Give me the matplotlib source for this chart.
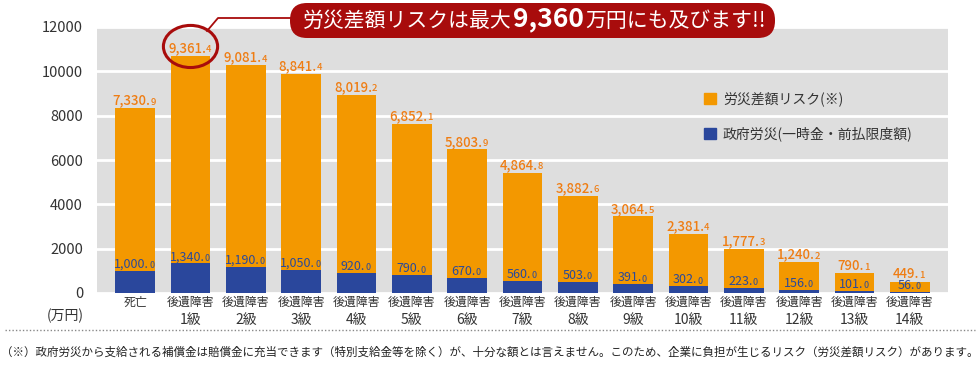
import matplotlib
matplotlib.use("Agg")
import matplotlib.pyplot as plt
from matplotlib.patches import Patch, Ellipse, FancyBboxPatch
from matplotlib.lines import Line2D
from matplotlib.transforms import IdentityTransform, blended_transform_factory

plt.rcParams['font.family'] = ['Noto Sans CJK JP', 'DejaVu Sans']

cat_top = ["死亡"] + ["後遺障害"] * 14
cat_bottom = [""] + [f"{i}級" for i in range(1, 15)]
risk = [7330.9, 9361.4, 9081.4, 8841.4, 8019.2, 6852.1, 5803.9, 4864.8,
        3882.6, 3064.5, 2381.4, 1777.3, 1240.2, 790.1, 449.1]
gov = [1000.0, 1340.0, 1190.0, 1050.0, 920.0, 790.0, 670.0, 560.0,
       503.0, 391.0, 302.0, 223.0, 156.0, 101.0, 56.0]
yticks = [0, 2000, 4000, 6000, 8000, 10000, 12000]

ORANGE = "#f39800"
ORANGE_TXT = "#ef7d13"
BLUE = "#2a479c"
BLUE_TXT = "#2a4a9a"
RED = "#a80c0c"

fig = plt.figure(figsize=(9.8, 3.65), dpi=100)
ax = fig.add_axes([97 / 980, 72 / 365, 851 / 980, 266 / 365])
ax.set_facecolor("#dedede")
for s in ax.spines.values():
    s.set_visible(False)

x = list(range(len(cat_top)))
totals = [r + g for r, g in zip(risk, gov)]
ax.bar(x, gov, width=0.72, color=BLUE, zorder=3)
ax.bar(x, risk, bottom=gov, width=0.72, color=ORANGE, zorder=3)

ax.set_xlim(-0.69, len(x) - 0.31)
ax.set_ylim(0, 12000)
ax.set_yticks(yticks)
ax.set_yticklabels([str(v) for v in yticks], fontsize=10.5, color="#333333")
ax.yaxis.grid(True, color="white", linewidth=2, zorder=1)
ax.tick_params(length=0, pad=10)
ax.tick_params(axis="x", pad=2)
ax.set_xticks(x)
ax.set_xticklabels(cat_top, fontsize=8.6, color="#333333")

# second line of the category labels (larger grade text)
tr = blended_transform_factory(ax.transData, fig.transFigure)
for xi, lab in zip(x, cat_bottom):
    fig.text(xi, 1 - 320 / 365, lab, transform=tr, ha="center", va="center",
             fontsize=10, color="#333333")


def two_part_label(xv, yv, value, color, size, weight, dy=1):
    s = f"{value:,.1f}"
    main, dec = s[:-1], s[-1]
    t1 = ax.annotate(main, xy=(xv, yv), xytext=(-2.5, dy), textcoords="offset points",
                     ha="center", va="bottom", fontsize=size, color=color,
                     fontweight=weight, zorder=5)
    ax.annotate(dec, xy=(1, 0.05), xycoords=t1, ha="left", va="bottom",
                fontsize=size * 0.72, color=color, fontweight=weight, zorder=5)


for xi, r, g, t in zip(x, risk, gov, totals):
    two_part_label(xi, t, r, ORANGE_TXT, 9.5, "medium", dy=0.5)
    two_part_label(xi, g, g, BLUE_TXT, 9, "normal", dy=0)

# circle around the max label
ax.add_patch(Ellipse((1, totals[1] + 420), 0.98, 1900, fill=False,
                     edgecolor=RED, linewidth=2.2, zorder=6, clip_on=False))

# legend
handles = [Patch(color=ORANGE, label="労災差額リスク(※)"),
           Patch(color=BLUE, label="政府労災(一時金・前払限度額)")]
fig.legend(handles=handles, loc="upper left", bbox_to_anchor=(691 / 980, 1 - 79 / 365),
           frameon=False, fontsize=10, handlelength=0.9, handleheight=0.9,
           handletextpad=0.5, labelspacing=1.45, labelcolor="#333333")

# unit label
fig.text(65 / 980, 1 - 316 / 365, "(万円)", ha="center", va="center",
         fontsize=10, color="#333333")

# banner
fig.add_artist(FancyBboxPatch((290, 365 - 38), 485, 35,
                              boxstyle="round,pad=0,rounding_size=17",
                              transform=IdentityTransform(), facecolor=RED,
                              edgecolor="none"))
fig.add_artist(Line2D([207, 218, 290], [365 - 31, 365 - 18, 365 - 18],
                      transform=IdentityTransform(), color=RED, linewidth=1.3))
b1 = fig.text(303 / 980, 1 - 21 / 365, "労災差額リスクは最大", ha="left", va="center",
              fontsize=15, color="white")
b2 = fig.text(0, 0, "9,360", ha="left", va="baseline", fontsize=19,
              fontweight="bold", color="white", transform=IdentityTransform())
fig.canvas.draw()
bb = b1.get_window_extent()
b2.set_position((bb.x1 + 1, bb.y0 + 6))
b3 = fig.text(0, 0, "万円にも及びます!!", ha="left", va="center", fontsize=15,
              color="white", transform=IdentityTransform())
fig.canvas.draw()
bb2 = b2.get_window_extent()
b3.set_position((bb2.x1 + 2, (bb.y0 + bb.y1) / 2))

# footer
fig.add_artist(Line2D([5, 975], [365 - 330, 365 - 330], transform=IdentityTransform(),
                      color="#888888", linewidth=1, linestyle=(0, (1, 1.5))))
fig.text(0.5, 1 - 352 / 365,
         "（※）政府労災から支給される補償金は賠償金に充当できます（特別支給金等を除く）が、十分な額とは言えません。"
         "このため、企業に負担が生じるリスク（労災差額リスク）があります。",
         ha="center", va="center", fontsize=8.3, color="#222222")

fig.savefig("out.png", dpi=100)
